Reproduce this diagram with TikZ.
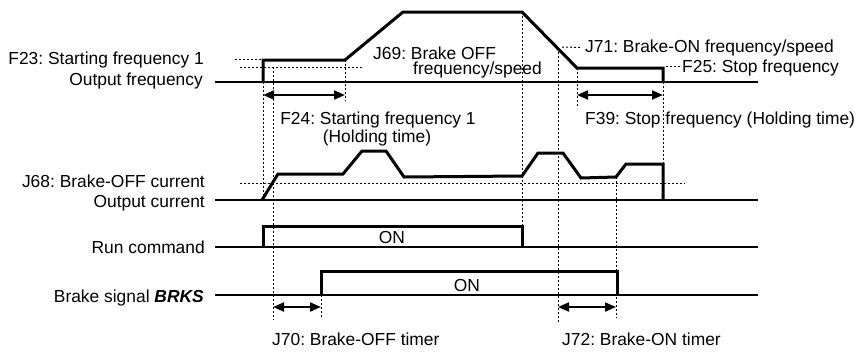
\documentclass[tikz,border=0pt]{standalone}
\usepackage{fontspec}
\setmainfont{Liberation Sans}
\usetikzlibrary{arrows.meta}
\frenchspacing
\begin{document}
\begin{tikzpicture}[x=1pt,y=-1pt,
  lbl/.style={inner sep=0pt, font=\fontsize{17.4}{20}\selectfont},
  axisline/.style={line width=1.8pt},
  wave/.style={line width=3pt, line join=miter},
  guide/.style={line width=1pt, dash pattern=on 2pt off 2pt},
  dimline/.style={line width=2pt, {Triangle[length=11pt,width=9pt]}-{Triangle[length=11pt,width=9pt]}}]
\useasboundingbox (0,0) rectangle (858,351);

% ---- left labels
\node[lbl, anchor=base east] (f23)   at (204,64)  {F23: Starting frequency 1};
\node[lbl, anchor=base east] (ofreq) at (203,85)  {Output frequency};
\node[lbl, anchor=base east] (j68)   at (205,187) {J68: Brake-OFF current};
\node[lbl, anchor=base east] (ocur)  at (205,207) {Output current};
\node[lbl, anchor=base east] (run)   at (205,253) {Run command};
\node[lbl, anchor=base east] (brk)   at (204,302) {Brake signal \textbf{\textit{BRKS}}};

% ---- other labels
\node[lbl, anchor=base west] (j69a) at (373,59)  {J69: Brake OFF};
\node[lbl, anchor=base west] (j69b) at (413,74)  {frequency/speed};
\node[lbl, anchor=base west] (j71)  at (585,52)  {J71: Brake-ON frequency/speed};
\node[lbl, anchor=base west] (f25)  at (682,72)  {F25: Stop frequency};
\node[lbl, anchor=base] (f24) at (378,124) {F24: Starting frequency 1};
\node[lbl, anchor=base] (f24b) at (377,142) {(Holding time)};
\node[lbl, anchor=base west] (f39)  at (585,124) {F39: Stop frequency (Holding time)};
\node[lbl, anchor=base west] (j70)  at (272,345) {J70: Brake-OFF timer};
\node[lbl, anchor=base west] (j72)  at (562,345) {J72: Brake-ON timer};
\node[lbl] (runon) at (392,238) {ON};
\node[lbl] (brkon) at (467,286) {ON};

% ---- axes
\coordinate (fa0) at (215,82);  \coordinate (fa1) at (758,82);
\coordinate (ca0) at (215,200); \coordinate (ca1) at (758,200);
\coordinate (ra0) at (215,247); \coordinate (ra1) at (758,247);
\coordinate (ba0) at (215,295); \coordinate (ba1) at (758,295);
\draw[axisline] (fa0) -- (fa1);
\draw[axisline] (ca0) -- (ca1);
\draw[axisline] (ra0) -- (ra1);
\draw[axisline] (ba0) -- (ba1);

% ---- dotted guides
\draw[guide] (235,59) -- (262,59);
\draw[guide] (240,67) -- (362,67);
\draw[guide] (240,183) -- (685,183);
\draw[guide] (263,82) -- (263,200);
\draw[guide] (273,67) -- (273,320);
\draw[guide] (345,60) -- (345,101);
\draw[guide] (522,12) -- (522,226);
\draw[guide] (558,48) -- (558,322);
\draw[guide] (577,68) -- (577,108);
\draw[guide] (663,82) -- (663,164);
\draw[guide] (616,177) -- (616,318);
\draw[guide] (321,295) -- (321,318);
\coordinate (j71p) at (562,47);
\draw[guide] (j71p) -- ([xshift=-4pt]j71.west);
\coordinate (f25p) at (666,66);
\draw[guide] (f25p) -- ([xshift=-2pt]f25.west |- f25p);

% ---- waveforms
\draw[wave] (263,82) -- (263,60) -- (345,60) -- (403,12) -- (522,12)
  -- (577,68) -- (663,68) -- (663,82);
\draw[wave] (262,200) -- (278,174) -- (343,174) -- (362,151) -- (386,151)
  -- (404,177) -- (522,176) -- (538,153) -- (563,153) -- (581,178)
  -- (616,177) -- (626,164) -- (663,164) -- (663,200);
\draw[wave] (263,247) -- (263,226) -- (522,226) -- (522,247);
\draw[wave] (321,295) -- (321,271) -- (617,271) -- (617,295);

% ---- dimension arrows
\draw[dimline] (263,95) -- (345,95);
\draw[dimline] (577,95) -- (663,95);
\draw[dimline] (273,307) -- (321,307);
\draw[dimline] (558,307) -- (616,307);
\end{tikzpicture}
\end{document}
